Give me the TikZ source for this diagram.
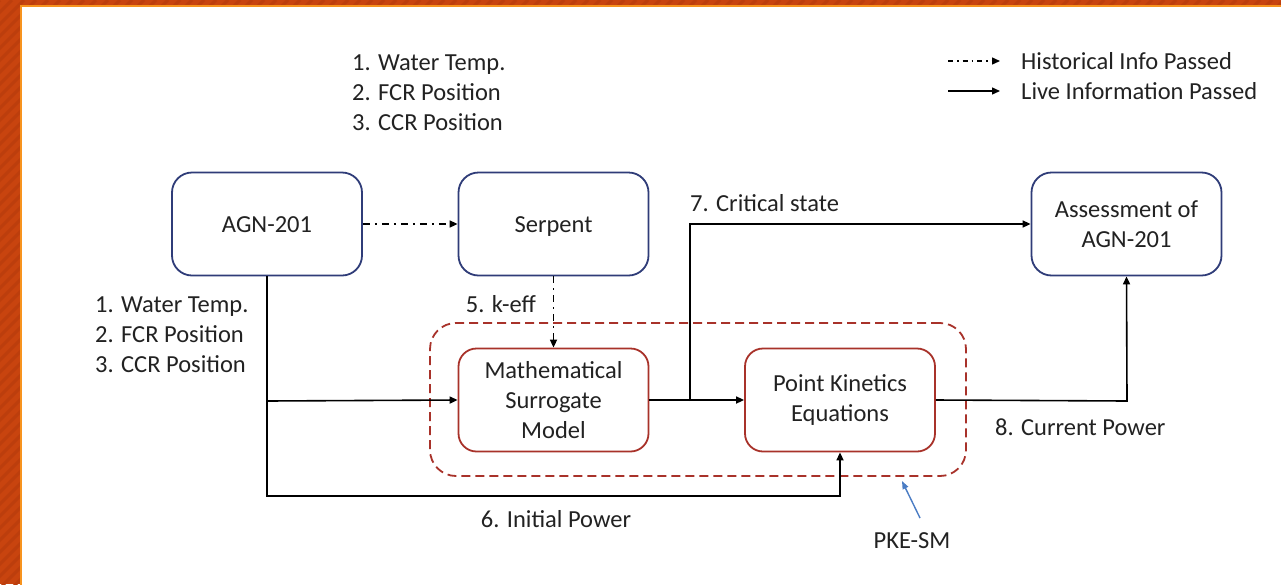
\documentclass[tikz,border=0pt]{standalone}
\usepackage{fontspec}
\setmainfont{Carlito}
\usetikzlibrary{arrows.meta}
\definecolor{frameorange}{HTML}{C8440F}
\definecolor{framestripe}{HTML}{BC3E0D}
\definecolor{frameline}{HTML}{F7931E}
\definecolor{navy}{HTML}{2F3C78}
\definecolor{brick}{HTML}{A8322A}
\definecolor{ink}{HTML}{222222}
\definecolor{pointer}{HTML}{4A7CC4}
\tikzset{
  every node/.style={font=\fontsize{24.5}{30}\selectfont, text=ink},
  bluebox/.style={draw=navy, line width=1.8pt, rounded corners=20pt, fill=white,
    minimum width=190pt, minimum height=103pt, align=center},
  oneline/.style={text height=17pt, text depth=0pt},
  redbox/.style={draw=brick, line width=1.8pt, rounded corners=18pt, fill=white,
    minimum width=190pt, minimum height=103pt, align=center},
  tip/.style={-{Triangle[length=8pt,width=7pt]}},
  live/.style={draw=black, line width=1.6pt},
  hist/.style={draw=black, line width=1.6pt, dash pattern=on 7pt off 5pt on 2pt off 5pt},
  lbl/.style={align=left, anchor=west, inner sep=0pt},
}
\begin{document}
\begin{tikzpicture}[x=1pt, y=-1pt]
% page frame with a striped orange edge
\useasboundingbox (0,0) rectangle (1281,584);
\fill[frameorange] (0,0) rectangle (1281,584);
\begin{scope}
  \clip (0,0) rectangle (1281,584);
  \foreach \s in {0,12,...,1900}
    \draw[framestripe, line width=3pt] (\s,0) -- (\s-600,600);
\end{scope}
\fill[frameline] (20,5) rectangle (1300,600);
\fill[white] (22,7) rectangle (1300,600);

% boxes
\node[bluebox, oneline] (agn) at (267,224) {AGN-201};
\node[bluebox, oneline] (serp) at (553.5,224) {Serpent};
\node[bluebox] (assess) at (1126.5,224) {Assessment of\\AGN-201};
\node[redbox] (msm) at (553.5,400) {Mathematical\\Surrogate\\Model};
\node[redbox] (pke) at (840,400) {Point Kinetics\\Equations};

% surrounding group outline
\node[draw=brick, line width=1.8pt, dash pattern=on 9pt off 5pt, rounded corners=26pt,
  minimum width=536pt, minimum height=153pt] (group) at (698,399.5) {};

% input lists
\node[lbl] (in1) at (352,93) {1. Water Temp.\\2. FCR Position\\3. CCR Position};
\node[lbl] (in2) at (95,335) {1. Water Temp.\\2. FCR Position\\3. CCR Position};

% junction points
\coordinate (split) at (267,401);
\coordinate (corner6) at (267,496);
\coordinate (tap) at (690,401);
\coordinate (up7) at (690,224);
\coordinate (out8) at (1127,401);

% historical links
\draw[hist, tip] (agn.east) -- (serp.west);
\draw[hist, tip] (serp.south) -- (msm.north);
\node[inner sep=0pt, anchor=east] (l5) at (536,304) {5. k-eff};

% live links
\draw[live] (agn.south) -- (split);
\draw[live, tip] (split) -- (msm.west);
\draw[live, tip] (split) -- (corner6) -| (pke.south);
\node (l6) at (556,519) {6. Initial Power};
\draw[live, tip] (msm.east) -- (pke.west);
\draw[live, tip] (tap) -- (up7) -- (assess.west);
\node[lbl] (l7) at (690,203) {7. Critical state};
\draw[live, tip] (pke.east) -- (out8) -- (assess.south);
\node[lbl] (l8) at (995,427) {8. Current Power};

% group label
\node (pkesm) at (912,541) {PKE-SM};
\coordinate (ptr) at (920,518);
\draw[pointer, line width=1.4pt, -{Triangle[length=8pt,width=6pt]}] (ptr) -- (902,481);

% legend
\coordinate (lg1a) at (948,61);
\coordinate (lg1b) at (1000,61);
\coordinate (lg2a) at (948,91);
\coordinate (lg2b) at (1000,91);
\draw[hist, tip, line width=1.4pt, dash pattern=on 5pt off 4pt on 1.5pt off 4pt] (lg1a) -- (lg1b);
\draw[live, tip, line width=1.4pt] (lg2a) -- (lg2b);
\node[lbl] (lgt1) at (1021,61) {Historical Info Passed};
\node[lbl] (lgt2) at (1021,91) {Live Information Passed};
\end{tikzpicture}
\end{document}
